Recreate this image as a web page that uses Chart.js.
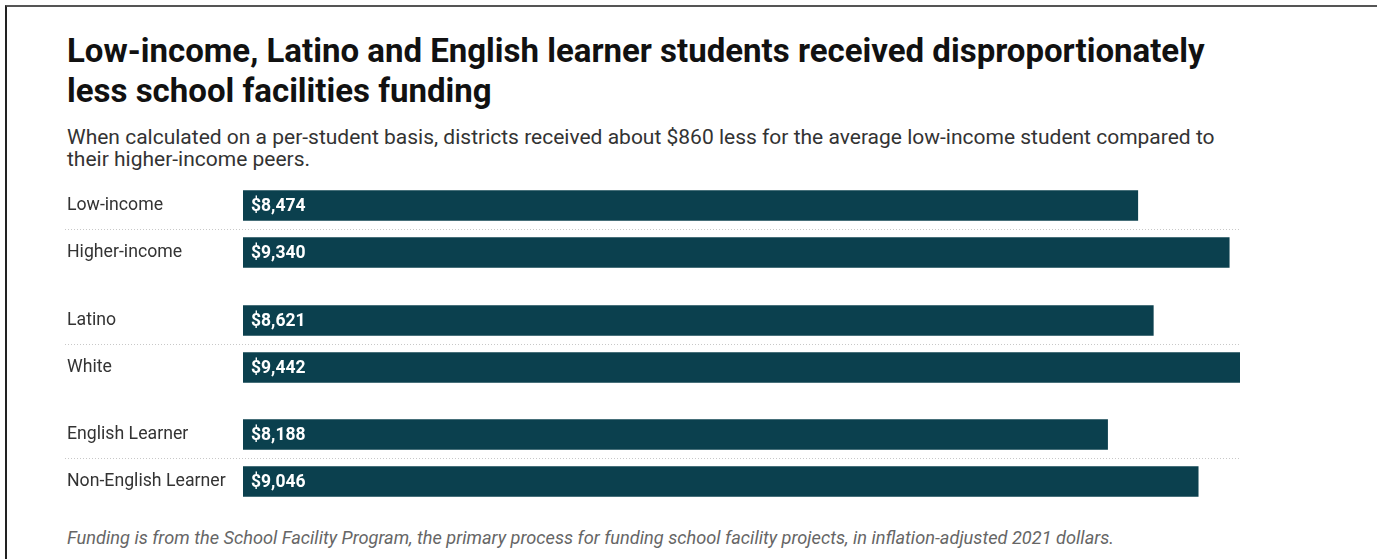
<!DOCTYPE html>
<html>
<head>
<meta charset="utf-8">
<script src="https://cdn.jsdelivr.net/npm/chart.js@4.4.1/dist/chart.umd.min.js"></script>
<style>
  html, body { margin: 0; padding: 0; background: #fff; }
  body { width: 1377px; height: 559px; position: relative; overflow: hidden; font-family: Roboto, "Noto Sans", sans-serif; }
  #frame { position: absolute; left: 5px; top: 5px; width: 1370px; height: 600px; border-top: 2px solid #555; border-left: 2px solid #222; border-right: 1px solid #999; }
  #title { position: absolute; left: 67px; top: 31px; font-size: 33px; line-height: 40px; font-weight: 700; color: #111; margin: 0; width: 1160px; }
  #sub { position: absolute; left: 67px; top: 126px; font-size: 21px; line-height: 22px; color: #333; width: 1185px; }
  #foot { position: absolute; left: 67px; top: 528px; font-size: 18.2px; line-height: 20px; font-style: italic; color: #666; white-space: nowrap; }
  .cw { position: absolute; left: 60px; width: 1180px; height: 94px; }
</style>
</head>
<body>
<div id="frame"></div>
<div id="title">Low-income, Latino and English learner students received disproportionately less school facilities funding</div>
<div id="sub">When calculated on a per-student basis, districts received about $860 less for the average low-income student compared to their higher-income peers.</div>
<div class="cw" style="top:182px"><canvas id="c0"></canvas></div>
<div class="cw" style="top:297px"><canvas id="c1"></canvas></div>
<div class="cw" style="top:411px"><canvas id="c2"></canvas></div>
<div id="foot">Funding is from the School Facility Program, the primary process for funding school facility projects, in inflation-adjusted 2021 dollars.</div>
<script>
const categories = ["Low-income", "Higher-income", "Latino", "White", "English Learner", "Non-English Learner"];
const values = [8474, 9340, 8621, 9442, 8188, 9046];
const groupSizes = [2, 2, 2];

const barColor = "#0b404e";
const maxValue = Math.max(...values);

const valueLabels = {
  id: "valueLabels",
  afterDatasetsDraw(chart) {
    const ctx = chart.ctx;
    const meta = chart.getDatasetMeta(0);
    const data = chart.data.datasets[0].data;
    ctx.save();
    ctx.fillStyle = "#ffffff";
    ctx.font = "bold 17.5px Roboto, sans-serif";
    ctx.textAlign = "left";
    ctx.textBaseline = "middle";
    meta.data.forEach((bar, i) => {
      const v = data[i];
      ctx.fillText("$" + v.toLocaleString("en-US"), bar.base + 8, bar.y + 1);
    });
    ctx.restore();
  }
};

const separators = {
  id: "separators",
  afterDraw(chart) {
    const ys = chart.scales.y;
    const ctx = chart.ctx;
    ctx.save();
    ctx.strokeStyle = "#c8c8c8";
    ctx.lineWidth = 1;
    ctx.setLineDash([1, 2]);
    for (let k = 1; k < chart.data.labels.length; k++) {
      const y = Math.round(ys.getPixelForValue(k - 0.5)) + 0.5;
      ctx.beginPath();
      ctx.moveTo(ys.left - 2, y);
      ctx.lineTo(chart.chartArea.right, y);
      ctx.stroke();
    }
    ctx.restore();
  }
};

let start = 0;
groupSizes.forEach((n, g) => {
  const labels = categories.slice(start, start + n);
  const vals = values.slice(start, start + n);
  start += n;
  new Chart(document.getElementById("c" + g), {
    type: "bar",
    data: {
      labels: labels,
      datasets: [{ data: vals, backgroundColor: barColor, borderWidth: 0, barThickness: 30 }]
    },
    options: {
      indexAxis: "y",
      responsive: true,
      maintainAspectRatio: false,
      animation: false,
      layout: { padding: { left: 7, right: 0, top: 0, bottom: 0 } },
      plugins: { legend: { display: false }, tooltip: { enabled: false }, title: { display: false } },
      scales: {
        x: { display: false, min: 0, max: maxValue },
        y: {
          grid: { display: false },
          border: { display: false },
          ticks: { crossAlign: "far", padding: 0, color: "#333", font: { family: "Roboto", size: 17.7 } },
          afterFit(scale) { scale.width = 176; scale.paddingTop = 0; scale.paddingBottom = 0; }
        }
      }
    },
    plugins: [valueLabels, separators]
  });
});
</script>
</body>
</html>
